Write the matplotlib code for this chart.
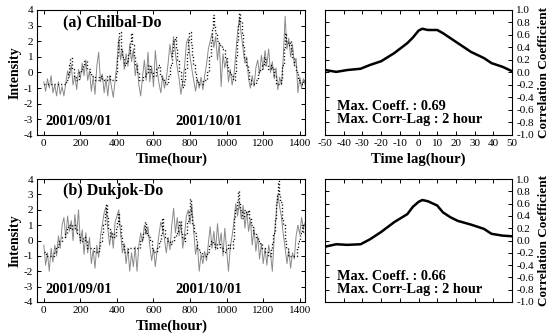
import matplotlib
matplotlib.use("Agg")
import matplotlib.pyplot as plt
from matplotlib.ticker import MultipleLocator, FormatStrFormatter

plt.rcParams['font.family'] = ['Liberation Serif', 'DejaVu Serif']
plt.rcParams['axes.unicode_minus'] = False

# ---- data ----
hours = list(range(0, 1440, 10))

chilbal_obs = [-0.6, -1.2, -0.4, -1.0, -0.2, -1.3, -0.8, -1.5, -0.6, -1.4,
               -0.9, -1.5, -0.7, 0.1, -0.3, 0.5, -0.8, -0.2, -1.1, 0.2,
               -0.4, 0.6, -0.2, 0.8, -0.5, 0.1, -1.2, -0.3, -1.4, 0.4,
               1.3, -0.6, -0.1, -1.3, -0.4, -1.5, -0.2, -0.9, -1.6, -0.5,
               0.5, 2.2, 0.8, 1.5, 0.2, 1.2, 0.4, 1.8, 0.7, 1.5,
               -0.2, 0.6, -0.8, -1.5, -0.3, 0.8, -0.5, 1.3, -0.6, 0.4,
               -0.9, 1.4, 0.1, -0.7, -1.3, -0.2, -1.0, -0.4, 0.6, 1.8,
               0.9, 2.3, 1.2, 0.3, -0.4, -1.4, -0.6, 0.4, 1.9, 2.2,
               1.0, 0.2, -0.5, -1.2, -0.4, -1.0, -0.3, -1.1, -0.2, 0.5,
               1.5, 2.0, 2.5, 1.6, 2.3, 0.8, 1.9, -0.9, 1.2, 0.3,
               0.9, -0.6, 0.2, -0.8, -0.2, 1.2, 2.6, 3.5, 2.4, 1.5,
               0.6, 1.0, -0.4, -1.0, -0.2, -0.9, 0.3, 0.8, -0.1, 1.1,
               0.2, 1.4, 0.5, 1.5, 0.0, 0.7, -0.4, 0.3, -1.1, -0.3,
               -0.8, 1.0, 3.6, 1.5, 2.2, 1.0, 1.8, 0.5, 0.9, -1.3,
               -0.3, -1.0, -0.4, -0.8]

dukjok_obs = [-0.3, -1.6, -0.8, -2.0, -0.5, -1.4, -0.3, -1.0, 0.3, -0.5,
              1.0, 1.5, 0.2, 1.6, 0.6, 1.3, 0.0, 1.7, 0.5, 2.0,
              -0.2, 0.7, -0.9, 0.5, -0.8, 0.2, -1.5, -0.6, -1.8, -0.3,
              -1.1, 0.3, 1.0, 1.8, 2.2, 0.8, -0.3, 0.6, -0.5, 1.2,
              1.6, 2.0, 0.5, -0.8, -0.2, -1.5, -0.5, -2.0, -0.8, -1.7,
              -0.4, -2.0, -0.3, 0.5, -0.1, 1.0, 0.4, 0.9, -0.4, -1.3,
              -0.5, -1.7, -0.6, 0.4, 1.2, 0.8, 0.1, -0.8, 0.2, -0.6,
              1.0, 2.1, 0.5, 1.5, 0.3, 1.2, -0.5, 0.4, 1.6, 2.0,
              1.1, 2.3, 0.6, -0.9, -0.2, -2.0, -0.9, -1.5, -0.7, -1.3,
              -0.2, 0.9, -0.5, 0.6, -0.6, 1.1, -0.3, 0.5, -1.0, 0.8,
              -0.6, -2.0, -0.4, 0.3, 1.2, 2.4, 1.6, 2.5, 1.4, 2.3,
              0.8, 1.9, 0.6, 1.4, -0.3, 0.8, -0.7, 0.3, -1.2, -0.2,
              -1.5, -0.5, -1.6, -0.3, -0.9, -2.0, 0.2, 1.6, 3.0, 2.2,
              1.5, 0.4, -0.5, -1.5, -0.6, -1.8, -0.8, -1.2, 0.3, 1.0,
              0.4, 1.5, 0.8, 1.2]

# dotted (model) series given as change points of a stepped level
chilbal_step_t = [0, 120, 130, 138, 145, 155, 165, 175, 195, 205, 215, 222, 235, 250,
                  260, 280, 300, 320, 345, 360, 395, 402, 408, 413, 420, 428, 440,
                  452, 462, 470, 477, 485, 492, 500, 510, 520, 545, 560, 572, 580,
                  595, 615, 625, 635, 645, 665, 680, 690, 700, 708, 715, 722, 730,
                  740, 748, 755, 765, 775, 783, 790, 796, 803, 810, 818, 826, 834,
                  845, 870, 895, 905, 912, 918, 924, 930, 937, 945, 960, 975, 990,
                  1000, 1010, 1022, 1035, 1045, 1052, 1058, 1063, 1068, 1075, 1082,
                  1090, 1097, 1105, 1115, 1125, 1135, 1160, 1170, 1180, 1195, 1205,
                  1212, 1225, 1240, 1250, 1260, 1270, 1295, 1305, 1312, 1318, 1325,
                  1335, 1345, 1352, 1360, 1368, 1378, 1388, 1400, 1420, 1432]
chilbal_step_v = [-0.75, -0.5, 0, 0.5, 0.9, 0.25, -0.25, -0.5, 0, 0.25, 0.5, 0.75, 0.25, 0,
                  -0.25, -0.5, -0.25, -0.5, -0.25, -0.5, 0, 1.0, 2.0, 2.6, 1.5, 1.0, 0.5,
                  0.75, 1.25, 2.0, 2.5, 1.75, 1.0, 0.5, 0, -0.5, -0.25, 0, 0.5, 0,
                  -0.25, 0.25, 0.5, -0.25, -0.5, -0.75, -0.25, 0.5, 1.25, 2.0, 2.3, 1.5, 0.75,
                  0, -0.5, -0.9, -0.5, 0.25, 1.25, 2.0, 2.6, 1.75, 1.0, 0.5, 0, -0.5,
                  -0.75, -0.5, 0, 1.0, 2.0, 2.75, 3.7, 3.0, 2.5, 2.0, 1.75, 1.5, 1.0,
                  0.5, 0, -0.25, -0.5, 0, 1.0, 2.0, 3.0, 3.8, 3.25, 2.5,
                  1.75, 1.0, 0.5, 0, -0.5, -0.75, -0.5, 0, 0.25, 0.5, 1.0,
                  0.5, 0.25, 0.5, 0.25, -0.25, -0.75, -0.5, 0.5, 1.5, 2.5, 2.0,
                  1.75, 2.0, 1.5, 1.0, 0.5, 0, -0.5, -0.75, -0.5, -0.5]

dukjok_step_t = [0, 10, 55, 65, 75, 85, 100, 115, 125, 135, 145, 155, 170, 180, 190,
                 200, 215, 225, 235, 275, 300, 310, 318, 326, 333, 340, 346, 353,
                 362, 375, 385, 395, 402, 408, 414, 422, 430, 440, 460, 525, 535,
                 545, 552, 560, 570, 580, 590, 600, 620, 632, 640, 647, 654, 665,
                 675, 690, 700, 712, 722, 732, 740, 748, 758, 768, 775, 785, 792,
                 798, 805, 812, 820, 830, 838, 850, 868, 895, 905, 915, 925, 935,
                 950, 965, 980, 995, 1010, 1020, 1035, 1040, 1048, 1054, 1060, 1067,
                 1075, 1085, 1095, 1105, 1115, 1125, 1135, 1145, 1160, 1172, 1182,
                 1195, 1210, 1225, 1240, 1250, 1256, 1262, 1268, 1274, 1280, 1287,
                 1294, 1302, 1310, 1318, 1326, 1334, 1385, 1392, 1400, 1410, 1420, 1432]
dukjok_step_v = [-0.75, -1.0, -0.75, -0.5, -0.25, 0, 0.25, 0.5, 0.75, 1.0, 0.75, 1.0, 0.75, 0.5, 0.25,
                 0, 0.25, 0, -0.5, -0.75, -0.5, 0, 0.5, 1.0, 1.75, 2.4, 1.5, 0.75,
                 0.25, 0.5, 0.25, 0.75, 1.25, 1.8, 1.0, 0.25, -0.25, -0.75, -0.5, 0, 0.25,
                 0.5, 1.2, 0.5, 0.25, 0, -0.5, -0.75, -0.5, 0, 0.5, 1.5, 0.75, 0.25,
                 0, -0.25, 0, 0.25, 0.5, 1.0, 1.25, 0.5, 0.25, 0, 0.5, 1.25, 2.0,
                 2.7, 1.75, 1.0, 0.5, 0, -0.5, -0.75, -1.0, -0.75, -0.25, 0, -0.25, -0.5,
                 -0.25, -0.5, -0.75, -0.5, -0.25, -0.5, 0, 1.5, 2.0, 2.5, 3.2, 2.5,
                 2.0, 1.5, 2.0, 1.75, 2.0, 1.5, 1.0, 0.5, 0.25, 0, -0.25,
                 -0.5, -0.75, -1.0, -0.5, -0.25, 0.5, 1.5, 2.5, 3.0, 3.85, 3.0,
                 2.5, 1.5, 1.0, 0, -0.5, -1.0, -0.5, 0, 0.5, 1.0, 0.5, 0.5]

lags = [-50, -44, -38, -31, -26, -20, -13, -6, -3, 0, 2, 5, 10, 13, 17, 21, 28, 35, 39, 45, 50]
chilbal_corr = [0.04, 0.01, 0.04, 0.06, 0.12, 0.18, 0.31, 0.47, 0.56, 0.67, 0.70, 0.68,
                0.68, 0.63, 0.55, 0.47, 0.33, 0.23, 0.15, 0.09, 0.02]
dukjok_corr = [-0.10, -0.06, -0.07, -0.06, 0.02, 0.14, 0.30, 0.43, 0.55, 0.63, 0.66, 0.64,
               0.57, 0.46, 0.38, 0.32, 0.26, 0.19, 0.11, 0.08, 0.07]

panels = [
    ("(a) Chilbal-Do", chilbal_obs, chilbal_step_t, chilbal_step_v, chilbal_corr, "0.69", "2"),
    ("(b) Dukjok-Do", dukjok_obs, dukjok_step_t, dukjok_step_v, dukjok_corr, "0.66", "2"),
]

fig = plt.figure(figsize=(5.5, 3.33), dpi=100)

rows = [(0.5946, 0.3754), (0.0931, 0.369)]
for i, (name, obs, st, sv, corr, cmax, clag) in enumerate(panels):
    bottom, height = rows[i]
    ax = fig.add_axes([0.068, bottom, 0.487, height])
    ax.plot(hours, obs, color='#8a8a8a', lw=0.7)
    ax.plot(st, sv, color='black', lw=1.0, ls=(0, (0.8, 1.6)), drawstyle='steps-post')
    ax.set_xlim(-35, 1430)
    ax.set_ylim(-4, 4)
    ax.xaxis.set_major_locator(MultipleLocator(200))
    ax.yaxis.set_major_locator(MultipleLocator(1))
    ax.tick_params(direction='in', top=True, right=True, labelsize=8, length=3, width=0.7, pad=3)
    ax.set_ylabel("Intensity", fontsize=10, fontweight='bold', labelpad=2)
    ax.set_xlabel("Time(hour)", fontsize=10.5, fontweight='bold', labelpad=3)
    ax.text(0.097, 0.9, name, transform=ax.transAxes, fontsize=11.5, fontweight='bold', va='center')
    ax.text(0.03, 0.104, "2001/09/01", transform=ax.transAxes, fontsize=10.5, fontweight='bold', va='center')
    ax.text(0.515, 0.104, "2001/10/01", transform=ax.transAxes, fontsize=10.5, fontweight='bold', va='center')
    for s in ax.spines.values():
        s.set_linewidth(0.8)

    axc = fig.add_axes([0.591, bottom, 0.340, height])
    axc.plot(lags, corr, color='black', lw=1.8)
    axc.set_xlim(-50, 50)
    axc.set_ylim(-1, 1)
    axc.xaxis.set_major_locator(MultipleLocator(10))
    axc.yaxis.set_major_locator(MultipleLocator(0.2))
    axc.yaxis.set_major_formatter(FormatStrFormatter('%.1f'))
    axc.tick_params(direction='in', top=True, right=True, left=True, labelleft=False,
                    labelright=True, labelsize=8, length=3, width=0.7, pad=3)
    axc.yaxis.set_label_position('right')
    axc.set_ylabel("Correlation Coefficient", fontsize=9.5, fontweight='bold', labelpad=3)
    if i == 0:
        axc.set_xlabel("Time lag(hour)", fontsize=10.5, fontweight='bold', labelpad=3)
        ty1, ty2 = 0.23, 0.125
    else:
        axc.tick_params(labelbottom=False)
        ty1, ty2 = 0.21, 0.1
    axc.text(0.063, ty1, "Max. Coeff. : " + cmax, transform=axc.transAxes, fontsize=10.3,
             fontweight='bold', va='center')
    axc.text(0.063, ty2, "Max. Corr-Lag : " + clag + " hour", transform=axc.transAxes,
             fontsize=10.3, fontweight='bold', va='center')
    for s in axc.spines.values():
        s.set_linewidth(0.8)

fig.savefig("out.png", dpi=100)
